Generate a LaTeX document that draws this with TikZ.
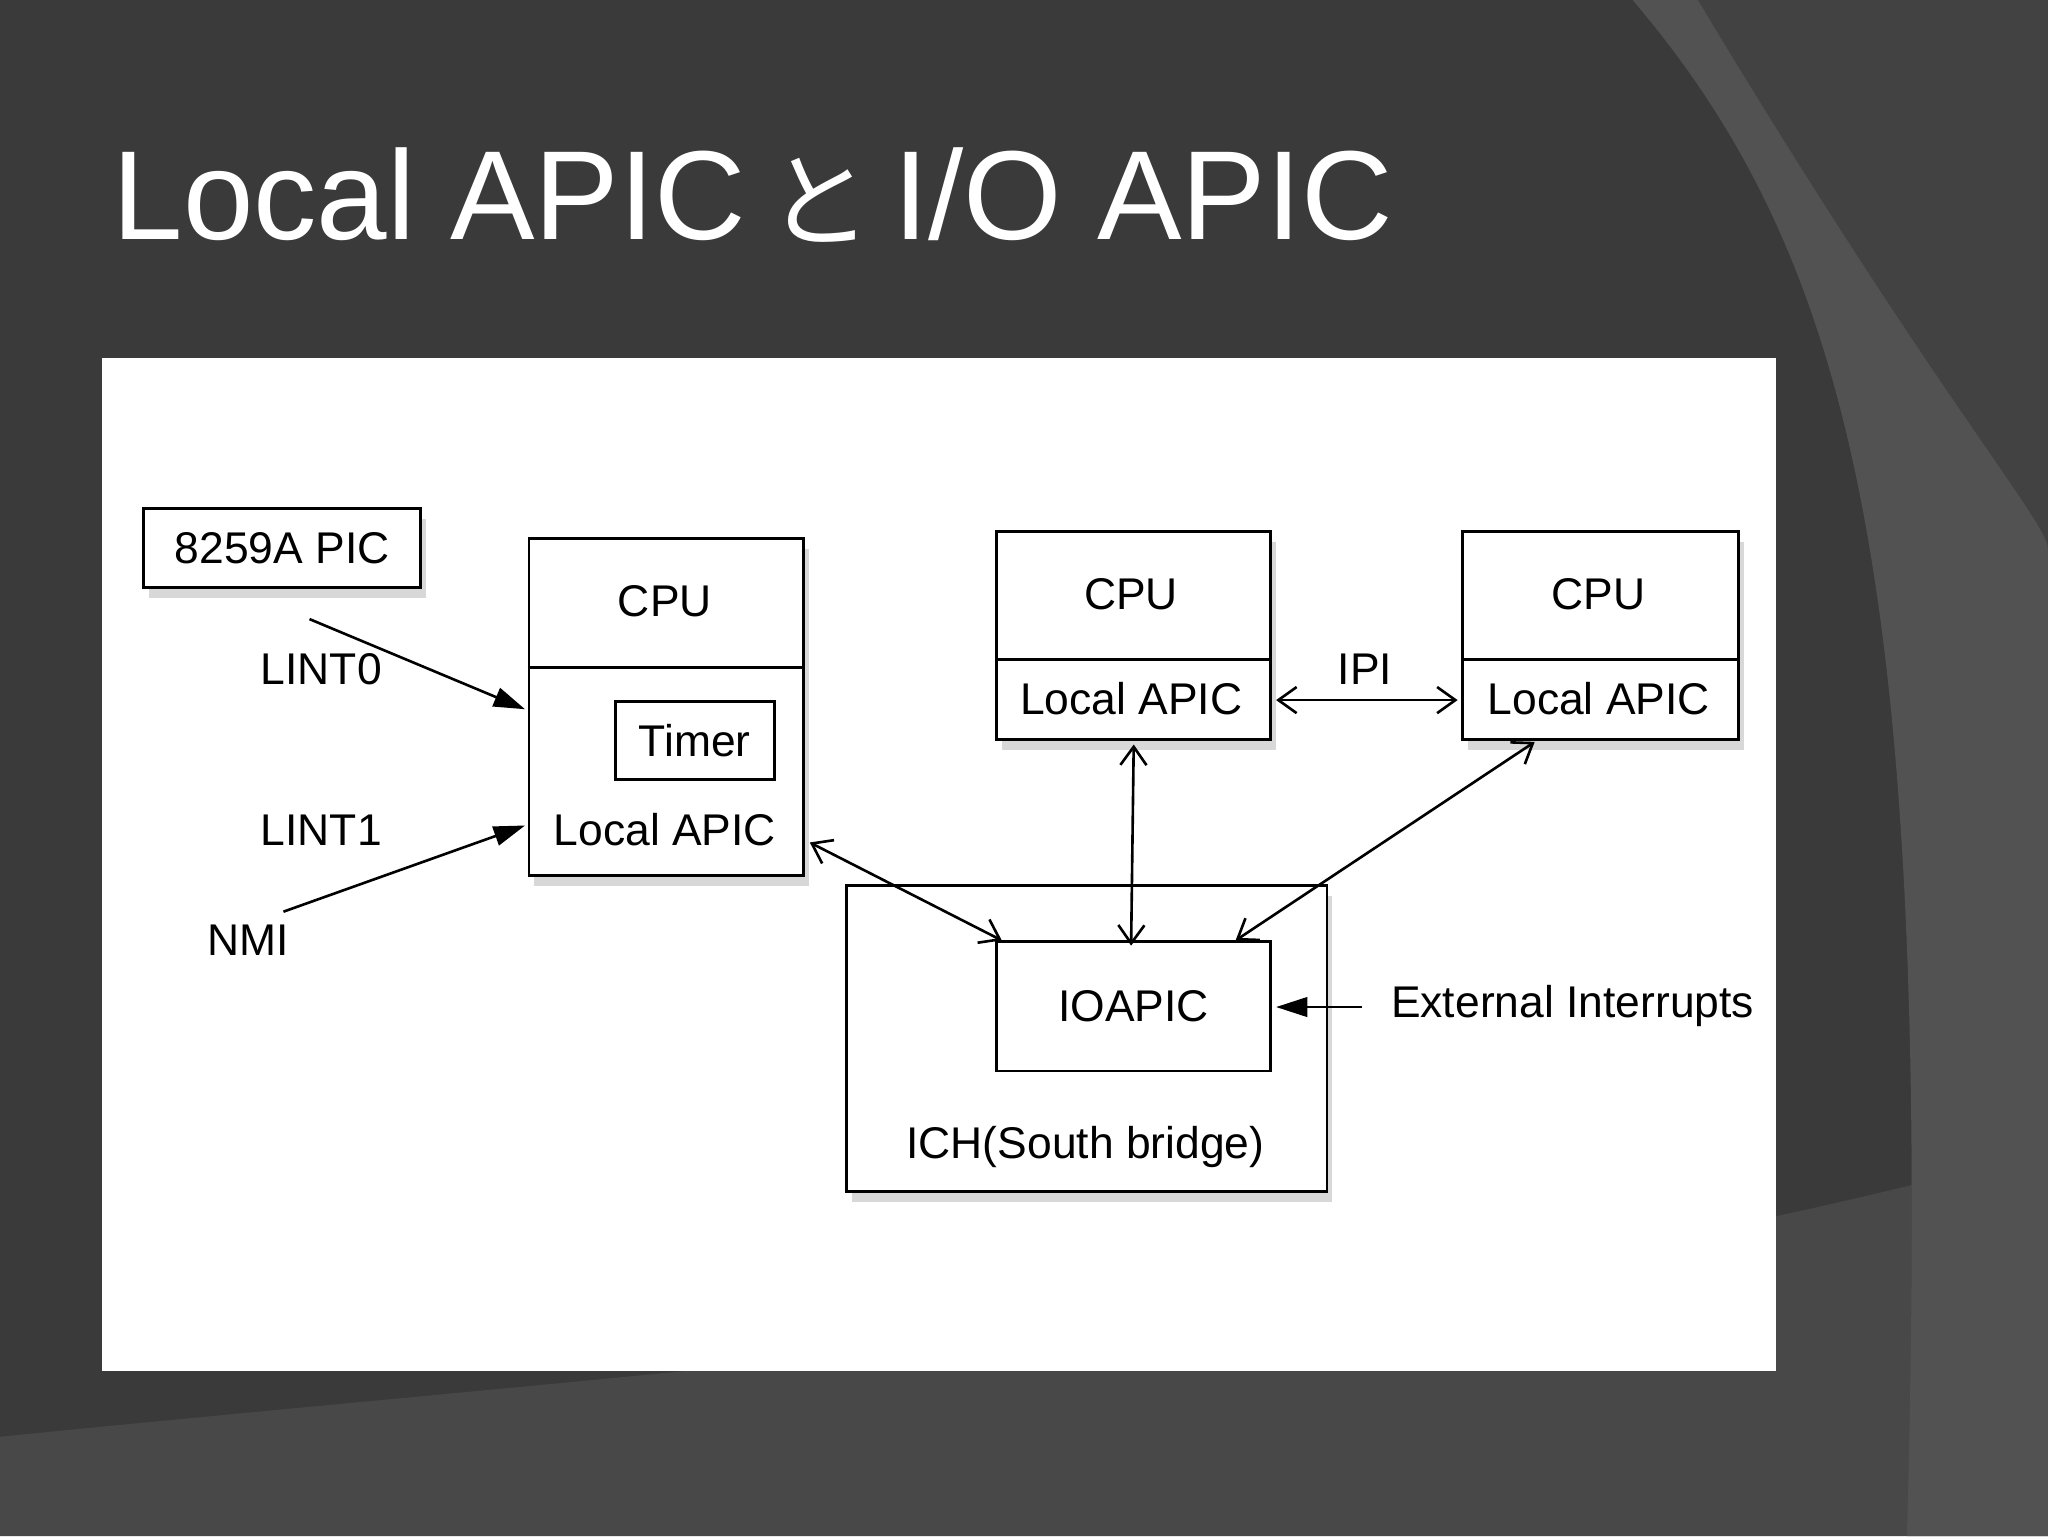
\documentclass[tikz,border=0pt]{standalone}
\usepackage{fontspec}
\setmainfont{Liberation Sans}
\newfontfamily\cjk{Noto Sans CJK JP}
\usetikzlibrary{shadows,arrows.meta}
\begin{document}
\begin{tikzpicture}[x=1pt,y=-1pt,
  bx/.style={draw,line width=2.2pt,fill=white,drop shadow={shadow xshift=4pt,shadow yshift=-8pt,opacity=0.3}},
  lbl/.style={font=\fontsize{34}{38}\selectfont,inner sep=0pt},
  fa/.style={-{Triangle[length=24pt,width=15pt]},line width=2pt},
  oa/.style={{Straight Barb[length=14pt,width=20pt]}-{Straight Barb[length=14pt,width=20pt]},line width=2pt}]
\useasboundingbox (0,0) rectangle (1568,1176);
\fill[fill={rgb,255:red,58;green,58;blue,58}] (0,0) rectangle (1568,1176);
\fill[fill={rgb,255:red,72;green,72;blue,72}] (0,1100) .. controls (600,1040) and (1100,1010) .. (1568,880) -- (1568,1176) -- (0,1176) -- cycle;
\fill[fill={rgb,255:red,82;green,82;blue,82}] (1250,0) .. controls (1420,200) and (1480,450) .. (1460,1176) -- (1568,1176) -- (1568,0) -- cycle;
\fill[fill={rgb,255:red,66;green,66;blue,66}] (1300,0) .. controls (1480,300) and (1568,400) .. (1568,420) -- (1568,0) -- cycle;
\node[anchor=base west,text=white,inner sep=0pt,font=\fontsize{97}{100}\selectfont] (title) at (86,183) {Local APIC\,{\cjk\fontsize{80}{90}\selectfont と}\,I/O APIC};
\fill[white] (78,274) rectangle (1360,1050);
\node[bx,minimum width=212pt,minimum height=61pt,lbl] (pic) at (216,419.5) {8259A PIC};
\node[bx,minimum width=210pt,minimum height=258pt] (cpu1) at (510,541) {};
\draw[line width=2.2pt] (cpu1.west |- 0,511) -- (cpu1.east |- 0,511);
\node[lbl] (c1) at (509,460) {CPU};
\node[draw,line width=2.2pt,minimum width=122pt,minimum height=60pt,lbl] (timer) at (532,567) {Timer};
\node[lbl] (la1) at (509,635) {Local APIC};
\node[bx,minimum width=210pt,minimum height=159pt] (cpu2) at (868,486.5) {};
\draw[line width=2.2pt] (cpu2.west |- 0,505) -- (cpu2.east |- 0,505);
\node[lbl] (c2) at (866,455) {CPU};
\node[lbl] (la2) at (866,535) {Local APIC};
\node[bx,minimum width=211pt,minimum height=159pt] (cpu3) at (1225.5,486.5) {};
\draw[line width=2.2pt] (cpu3.west |- 0,505) -- (cpu3.east |- 0,505);
\node[lbl] (c3) at (1224,455) {CPU};
\node[lbl] (la3) at (1224,535) {Local APIC};
\node[bx,minimum width=368pt,minimum height=234pt] (ich) at (832,795) {};
\node[draw,line width=2.2pt,fill=white,minimum width=210pt,minimum height=99pt,lbl] (io) at (868,770.5) {IOAPIC};
\node[lbl] (ichl) at (831,878) {ICH(South bridge)};
\node[lbl] (l0) at (246,512) {LINT0};
\node[lbl] (l1) at (246,636) {LINT1};
\node[lbl] (nmi) at (190,720) {NMI};
\node[lbl] (ipi) at (1045,512) {IPI};
\node[lbl] (ext) at (1204,770) {External Interrupts};
\coordinate (a0) at (237,474); \coordinate (a0e) at (402,543);
\coordinate (a1) at (217,698); \coordinate (a1e) at (402,632);
\coordinate (p1) at (620,645); \coordinate (p1e) at (767,720);
\coordinate (p2) at (868,570); \coordinate (p2e) at (866,724);
\coordinate (p3) at (1175,568); \coordinate (p3e) at (946,720);
\coordinate (q1) at (977,536); \coordinate (q1e) at (1116,536);
\coordinate (e1) at (1043,771); \coordinate (e1e) at (977,771);
\draw[fa] (a0) -- (a0e);
\draw[fa] (a1) -- (a1e);
\draw[fa] (e1) -- (e1e);
\draw[oa] (p1) -- (p1e);
\draw[oa] (p2) -- (p2e);
\draw[oa] (p3) -- (p3e);
\draw[oa] (q1) -- (q1e);
\end{tikzpicture}
\end{document}
